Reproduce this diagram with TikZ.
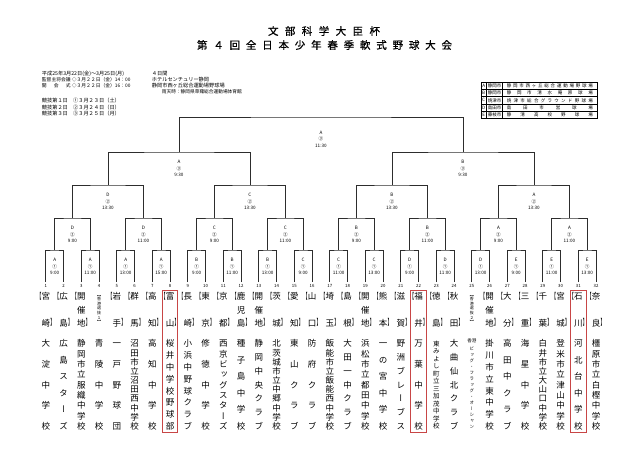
\documentclass[tikz,border=0pt]{standalone}
\usepackage{graphicx}
\usepackage{fontspec}
\setmainfont{Noto Sans CJK JP}
\newfontfamily\jp{Noto Sans CJK JP}
\newfontfamily\jptitle[FakeBold=0.8]{Noto Sans CJK JP}
\newfontfamily\jptate[RawFeature=+vert]{Noto Sans CJK JP}
\usetikzlibrary{fit}
\definecolor{markred}{RGB}{200, 70, 70}
\definecolor{linegray}{RGB}{45, 45, 45}

\makeatletter
% characters stacked in a column, spread over a fixed height
\newcommand\tate[2]{\vbox to #1{\offinterlineskip\def\tsep{}%
  \expandafter\@tfor\expandafter\tch\expandafter:\expandafter=#2\do
  {\tsep\hbox to 0pt{\hss\vrule width 0pt height .88em depth .12em\tch\hss}\def\tsep{\vfill}}}}
% characters in a row, spread over a fixed width
\newcommand\spread[2]{\makebox[#1][s]{\def\tsep{}%
  \expandafter\@tfor\expandafter\tch\expandafter:\expandafter=#2\do
  {\tsep\tch\def\tsep{\hfill}}}}
\makeatother

\begin{document}
\begin{tikzpicture}[
    x=1pt, y=-1pt,
    bline/.style={draw=linegray, line width=0.7pt},
    tline/.style={draw=black, line width=0.5pt},
    mlabel/.style={align=center, inner sep=0pt, anchor=north, font=\fontsize{4.6}{6.5}\selectfont},
    num/.style={inner sep=0pt, font=\fontsize{4.3}{5}\selectfont},
    pref/.style={inner sep=0pt, anchor=north, font=\fontsize{8.5}{8.5}\jp},
    brk/.style={inner sep=0pt, font=\fontsize{8.5}{8.5}\jp},
    tname/.style={inner sep=0pt, anchor=north},
    info/.style={inner sep=0pt, anchor=west, font=\fontsize{5.2}{6}\jp},
    venue/.style={inner sep=0pt, font=\fontsize{4.5}{5}\jp},
    markbox/.style={draw=markred, line width=0.8pt, inner xsep=7pt, inner ysep=2pt}
]
    \useasboundingbox (0,0) rectangle (640,452);

    % title
    \node[font=\fontsize{10.5}{12}\jptitle] (title1) at (324,31) {\spread{112pt}{文部科学大臣杯}};
    \node[font=\fontsize{10.5}{12}\jptitle] (title2) at (324.5,45) {\spread{255pt}{第４回全日本少年春季軟式野球大会}};

    % schedule
    \node[info] (info1) at (41.7,74) {平成25年3月22日(金)～3月25日(月)};
    \node[info] (info2) at (151.7,74) {４日間};
    \node[info, font=\fontsize{4.8}{6}\jp] (info3) at (41.7,79.5) {監督主将会議 ◇３月２２日（金）14：00};
    \node[info] (info4) at (151.7,79.5) {ホテルセンチュリー静岡};
    \node[info, font=\fontsize{4.8}{6}\jp] (info5) at (41.7,85.5) {\spread{28.8pt}{開会式} ◇３月２２日（金）16：00};
    \node[info] (info6) at (151.7,85.5) {静岡市西ヶ丘総合運動場野球場};
    \node[info, font=\fontsize{4.7}{6}\jp] (info7) at (161.7,91.5) {雨天時：静岡県草薙総合運動場体育館};
    \node[info] (info8) at (41.7,100.7) {競技第１日　①３月２３日（土）};
    \node[info] (info9) at (41.7,107.5) {競技第２日　②３月２４日（日）};
    \node[info] (info10) at (41.7,114) {競技第３日　③３月２５日（月）};

    % venues
    \draw[tline] (481,82.3) rectangle (597,118.3);
    \foreach \j in {1,...,4}
        \draw[tline] (481,{82.3+7.2*\j}) -- (597,{82.3+7.2*\j});
    \draw[tline] (486.3,82.3) -- (486.3,118.3);
    \draw[tline] (502.7,82.3) -- (502.7,118.3);
    \foreach \vn/\city/\place [count=\j] in {A/静岡市/静岡市西ヶ丘総合運動場野球場, B/静岡市/静岡市清水庵原球場, C/焼津市/焼津市総合グラウンド野球場, D/島田市/島田市営球場, E/藤枝市/静清高校野球場}{
        \node[venue] (vk\j) at (483.65,{78.7+7.2*\j}) {\vn};
        \node[venue] (vc\j) at (494.5,{78.7+7.2*\j}) {\city};
        \node[venue] (vp\j) at (549.85,{78.7+7.2*\j}) {\spread{86pt}{\place}};
    }

    % bracket
    \foreach \i in {1,...,32}{
        \coordinate (r0-\i) at ({45.8+(\i-1)*17.75},282);
        \node[num, yshift=-3.8pt] (num\i) at (r0-\i) {\i};
    }
    \foreach \r/\h [remember=\r as \q (initially 0)] in {1/250, 2/218, 3/185, 4/152, 5/117}{
        \pgfmathtruncatemacro\nm{2^(5-\r)}
        \foreach \k in {1,...,\nm}{
            \pgfmathtruncatemacro\ma{2*\k-1}
            \pgfmathtruncatemacro\mb{2*\k}
            \coordinate (r\r-\k) at ({45.8+((2^\r*(\k-1)+1+2^\r*\k)/2-1)*17.75},\h);
            \draw[bline] (r\q-\ma) |- (r\r-\k) -| (r\q-\mb);
        }
    }

    % match labels
    \foreach \r/\k/\vn/\dn/\tm in {1/1/A/①/9:00, 1/2/A/①/11:00, 1/3/A/①/13:00, 1/4/A/①/15:00,
        1/5/B/①/9:00, 1/6/B/①/11:00, 1/7/B/①/13:00, 1/8/C/①/9:00,
        1/9/C/①/11:00, 1/10/C/①/13:00, 1/11/D/①/9:00, 1/12/D/①/11:00,
        1/13/D/①/13:00, 1/14/E/①/9:00, 1/15/E/①/11:00, 1/16/E/①/13:00,
        2/1/D/②/9:00, 2/2/D/②/11:00, 2/3/C/②/9:00, 2/4/C/②/11:00,
        2/5/B/②/9:00, 2/6/B/②/11:00, 2/7/A/②/9:00, 2/8/A/②/11:00,
        3/1/D/②/13:30, 3/2/C/②/13:30, 3/3/B/②/13:30, 3/4/A/②/13:30,
        4/1/A/③/9:30, 4/2/B/③/9:30}
        \node[mlabel, yshift=-8pt] (lab\r-\k) at (r\r-\k) {\vn\\\dn\\\tm};
    \node[mlabel, yshift=-13.5pt] (lab5-1) at (r5-1) {A\\③\\11:30};

    % teams
    \foreach \i/\p/\n/\s in {1/宮崎/大淀中学校/8.5, 2/広島/広島スターズ/8.5, 3/開催地/静岡市立服織中学校/8.5,
        5/岩手/一戸野球団/8.5, 6/群馬/沼田市立沼田西中学校/8.5, 7/高知/高知中学校/8.5,
        8/富山/桜井中学校野球部/8.5, 9/長崎/小浜中野球クラブ/8.5, 10/東京/修徳中学校/8.5,
        11/京都/西京ビッグスターズ/8.5, 12/鹿児島/種子島中学校/8.5, 13/開催地/静岡中央クラブ/8.5,
        14/茨城/北茨城市立中郷中学校/8.5, 15/愛知/東山クラブ/8.5, 16/山口/防府クラブ/8.5,
        17/埼玉/飯能市立飯能西中学校/8.5, 18/島根/大田一中クラブ/8.5, 19/開催地/浜松市立都田中学校/8.5,
        20/熊本/一の宮中学校/8.5, 21/滋賀/野洲ブレーブス/8.5, 22/福井/万葉中学校/8.5,
        23/徳島/東みよし町立三加茂中学校/6.5, 24/秋田/大曲仙北クラブ/8.5, 26/開催地/掛川市立東中学校/8.5,
        27/大分/高田中クラブ/8.5, 28/三重/海星中学校/8.5, 29/千葉/白井市立大山口中学校/8.5,
        30/宮城/登米市立津山中学校/8.5, 31/石川/河北台中学校/8.5, 32/奈良/橿原市立白樫中学校/8.5}{
        \pgfmathsetmacro\cx{45.8+(\i-1)*17.75}
        \pgfmathsetmacro\colh{82.5+0.88*\s}
        \node[pref] (p\i) at (\cx,292.25) {\tate{33.7pt}{\p}};
        \node[brk, anchor=east] (bl\i) at ({\cx-4.25},296.5) {\scalebox{0.5}[1]{【}};
        \node[brk, anchor=west] (br\i) at ({\cx+4.25},322.7) {\scalebox{0.5}[1]{】}};
        \node[tname, font=\fontsize{\s}{\s}\jptate] (n\i) at (\cx,{343.5-0.5*\s}) {\tate{\colh pt}{\n}};
    }
    % teams with small headings
    \node[pref, font=\fontsize{4}{4}\jptate] (p4) at (99.05,292.5) {\tate{31pt}{【香港選抜１】}};
    \node[tname, font=\fontsize{8.5}{8.5}\jptate] (n4) at (99.05,339.25) {\tate{89.98pt}{青陵中学校}};
    \node[pref, font=\fontsize{4}{4}\jptate] (p25) at (471.8,292.5) {\tate{31pt}{【香港選抜２】}};
    \node[inner sep=0pt, font=\fontsize{4.5}{5}\jp] (hk25) at (471.8,341) {香港};
    \node[tname, font=\fontsize{4.5}{4.5}\jptate] (n25) at (471.8,346.75) {\tate{82pt}{ビッグ・フラッグ・オーシャン}};

    \node[markbox, fit=(p8)(n8)] (mark8) {};
    \node[markbox, fit=(p22)(n22)] (mark22) {};
    \node[markbox, fit=(p31)(n31)] (mark31) {};
\end{tikzpicture}
\end{document}
